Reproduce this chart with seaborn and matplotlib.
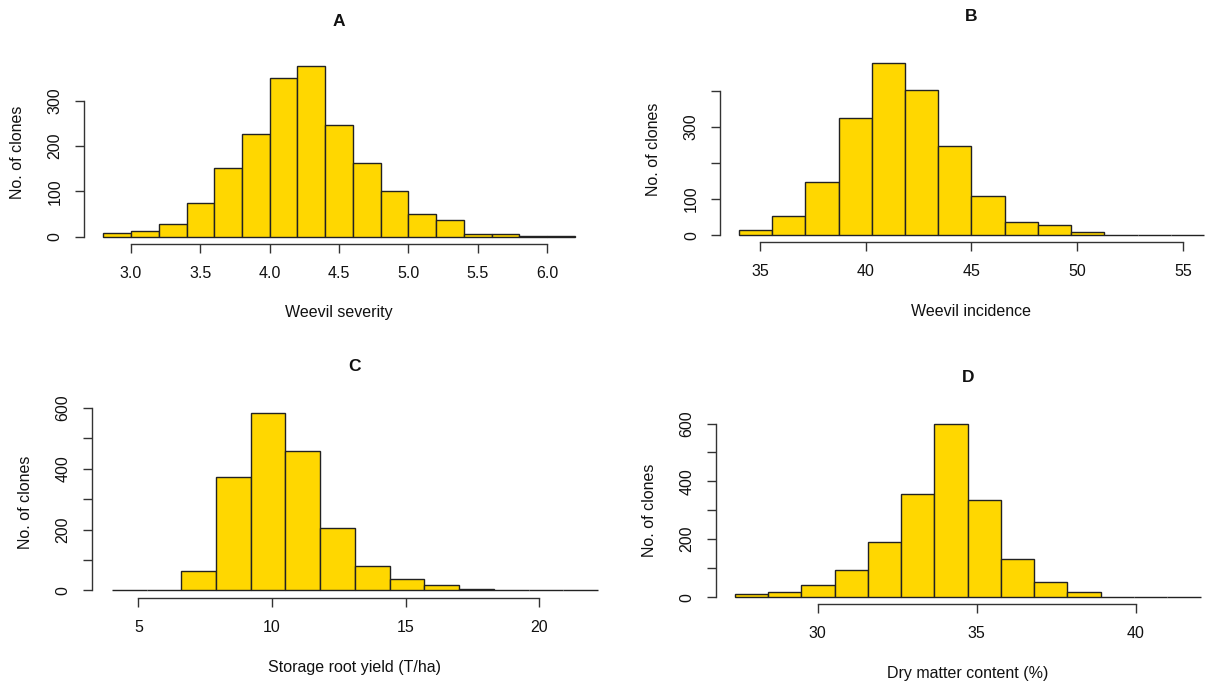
import pandas as pd
import matplotlib
matplotlib.use("Agg")
import matplotlib.pyplot as plt
import seaborn as sns

# bin edges and counts
sev_edges = [2.8, 3.0, 3.2, 3.4, 3.6, 3.8, 4.0, 4.2, 4.4, 4.6, 4.8, 5.0, 5.2, 5.4, 5.6, 5.8, 6.0, 6.2]
sev_counts = [8, 13, 28, 74, 151, 227, 350, 376, 246, 162, 100, 50, 37, 6, 6, 1, 1]

inc_edges = [34.0, 35.57, 37.14, 38.71, 40.29, 41.86, 43.43, 45.0, 46.57, 48.14, 49.71, 51.29, 52.86, 54.43, 56.0]
inc_counts = [14, 53, 147, 325, 476, 403, 247, 108, 37, 27, 8, 1, 0, 1]

yld_edges = [4.0, 5.3, 6.6, 7.9, 9.2, 10.5, 11.8, 13.1, 14.4, 15.7, 17.0, 18.3, 19.6, 20.9, 22.2]
yld_counts = [1, 1, 65, 374, 582, 458, 206, 80, 39, 19, 6, 1, 0, 1]

dm_edges = [27.4, 28.45, 29.49, 30.54, 31.58, 32.63, 33.67, 34.72, 35.76, 36.81, 37.85, 38.9, 39.94, 40.99, 42.03]
dm_counts = [9, 16, 41, 94, 192, 357, 600, 336, 130, 52, 17, 1, 0, 1]

panels = [
    dict(title="A", xlabel="Weevil severity", edges=sev_edges, counts=sev_counts,
         pos=[0.0697, 0.6438, 0.4229, 0.2686], xlim=(2.661, 6.339), ylim=(-16, 390),
         xticks=[3.0, 3.5, 4.0, 4.5, 5.0, 5.5, 6.0], xfmt="{:.1f}",
         yticks=[0, 100, 200, 300], ylabels=["0", "100", "200", "300"]),
    dict(title="B", xlabel="Weevil incidence", edges=inc_edges, counts=inc_counts,
         pos=[0.5974, 0.6463, 0.4163, 0.2720], xlim=(33.12, 56.88), ylim=(-20, 496),
         xticks=[35, 40, 45, 50, 55], xfmt="{:.0f}",
         yticks=[0, 100, 200, 300, 400], ylabels=["0", "100", "", "300", ""]),
    dict(title="C", xlabel="Storage root yield (T/ha)", edges=yld_edges, counts=yld_counts,
         pos=[0.0765, 0.1266, 0.4356, 0.2807], xlim=(3.27, 22.93), ylim=(-26, 606),
         xticks=[5, 10, 15, 20], xfmt="{:.0f}",
         yticks=[0, 100, 200, 300, 400, 500, 600], ylabels=["0", "", "200", "", "400", "", "600"]),
    dict(title="D", xlabel="Dry matter content (%)", edges=dm_edges, counts=dm_counts,
         pos=[0.5939, 0.1178, 0.4170, 0.2749], xlim=(26.815, 42.615), ylim=(-25, 626),
         xticks=[30, 35, 40], xfmt="{:.0f}",
         yticks=[0, 100, 200, 300, 400, 500, 600], ylabels=["0", "", "200", "", "400", "", "600"]),
]

sns.set_style("white")
plt.rcParams["font.family"] = ["Liberation Sans", "DejaVu Sans"]

fig = plt.figure(figsize=(12.06, 6.85), dpi=100)
axis_col = "#333333"

for p in panels:
    ax = fig.add_axes(p["pos"])
    edges = p["edges"]
    mids = [(a + b) / 2 for a, b in zip(edges[:-1], edges[1:])]
    df = pd.DataFrame({"value": mids, "n": p["counts"]})
    sns.histplot(data=df, x="value", weights="n", bins=edges, ax=ax,
                 color="#FFD700", edgecolor="#222222", linewidth=1.0, alpha=1.0)

    ax.set_xlim(*p["xlim"])
    ax.set_ylim(*p["ylim"])
    ax.set_xticks(p["xticks"])
    ax.set_xticklabels([p["xfmt"].format(t) for t in p["xticks"]])
    ax.set_yticks(p["yticks"])
    ax.set_yticklabels(p["ylabels"])

    for side in ["top", "right"]:
        ax.spines[side].set_visible(False)
    ax.spines["left"].set_bounds(p["yticks"][0], p["yticks"][-1])
    ax.spines["bottom"].set_bounds(p["xticks"][0], p["xticks"][-1])
    for side in ["left", "bottom"]:
        ax.spines[side].set_color(axis_col)
        ax.spines[side].set_linewidth(1.0)

    ax.tick_params(axis="both", direction="out", length=6.5, width=1.0, color=axis_col,
                   labelsize=11.5, labelcolor="#111111", pad=9, bottom=True, left=True)
    ax.tick_params(axis="y", labelrotation=90)
    for lab in ax.get_yticklabels():
        lab.set_va("center")

    h = p["pos"][3] * 685
    w = p["pos"][2] * 1206
    ax.set_xlabel(p["xlabel"], fontsize=11.5, color="#111111")
    ax.xaxis.set_label_coords(0.5, -69 / h)
    ax.xaxis.label.set_va("center")
    ax.set_ylabel("No. of clones", fontsize=11.5, color="#111111")
    ax.yaxis.set_label_coords(-67 / w, 0.5)
    ax.yaxis.label.set_va("center")
    ax.set_title(p["title"], fontsize=12.5, fontweight="bold", color="#111111",
                 y=1 + 39 / h, va="center", pad=0)

fig.savefig("out.png", dpi=100)
